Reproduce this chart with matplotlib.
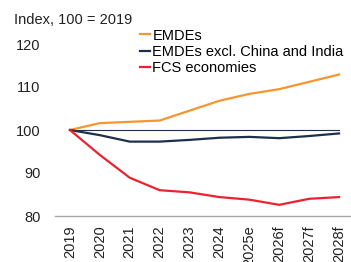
import matplotlib
matplotlib.use("Agg")
from matplotlib import pyplot as plt

years = ["2019", "2020", "2021", "2022", "2023", "2024", "2025e", "2026f", "2027f", "2028f"]
emdes = [100, 101.6, 101.9, 102.2, 104.5, 106.8, 108.4, 109.5, 111.2, 112.9]
emdes_excl = [100, 98.8, 97.3, 97.3, 97.7, 98.2, 98.4, 98.1, 98.6, 99.2]
fcs = [100, 94.2, 88.9, 86.0, 85.5, 84.4, 83.8, 82.6, 84.0, 84.4]
baseline = [100] * len(years)

ORANGE = "#F7952F"
NAVY = "#1B2F4F"
RED = "#EC2230"
FS = 10.5

plt.rcParams["font.family"] = ["Liberation Sans", "DejaVu Sans"]
plt.rcParams["font.size"] = FS

fig = plt.figure(figsize=(3.51, 2.62), dpi=100)
ax = fig.add_axes([55 / 351, 46 / 262, 296 / 351, 193.5 / 262])

x = list(range(len(years)))
ax.plot(x, baseline, color=NAVY, lw=0.8)
l1, = ax.plot(x, emdes, color=ORANGE, lw=1.6, label="EMDEs")
l2, = ax.plot(x, emdes_excl, color=NAVY, lw=1.6, label="EMDEs excl. China and India")
l3, = ax.plot(x, fcs, color=RED, lw=1.6, label="FCS economies")

ax.set_xlim(-0.5, 9.4)
ax.set_ylim(80, 125)
ax.set_yticks([80, 90, 100, 110, 120])
ax.set_xticks(x)
ax.set_xticklabels(years, rotation=90)
ax.tick_params(axis="both", length=0, labelsize=FS, colors="#222222")
ax.tick_params(axis="y", pad=10.5)
ax.tick_params(axis="x", pad=7)

for side in ["top", "right", "left"]:
    ax.spines[side].set_visible(False)
ax.spines["bottom"].set_color("#A6A6A6")
ax.spines["bottom"].set_linewidth(1.0)

fig.text(14 / 351, 1 - 20 / 262, "Index, 100 = 2019", fontsize=FS, va="center", ha="left", color="#222222")

fig.legend(handles=[l1, l2, l3], loc="upper left", bbox_to_anchor=(140 / 351, 1 - 28.5 / 262),
           frameon=False, handlelength=0.7, handletextpad=0.15, labelspacing=0.15,
           borderpad=0, borderaxespad=0, fontsize=FS)

fig.savefig("out.png", dpi=100)
